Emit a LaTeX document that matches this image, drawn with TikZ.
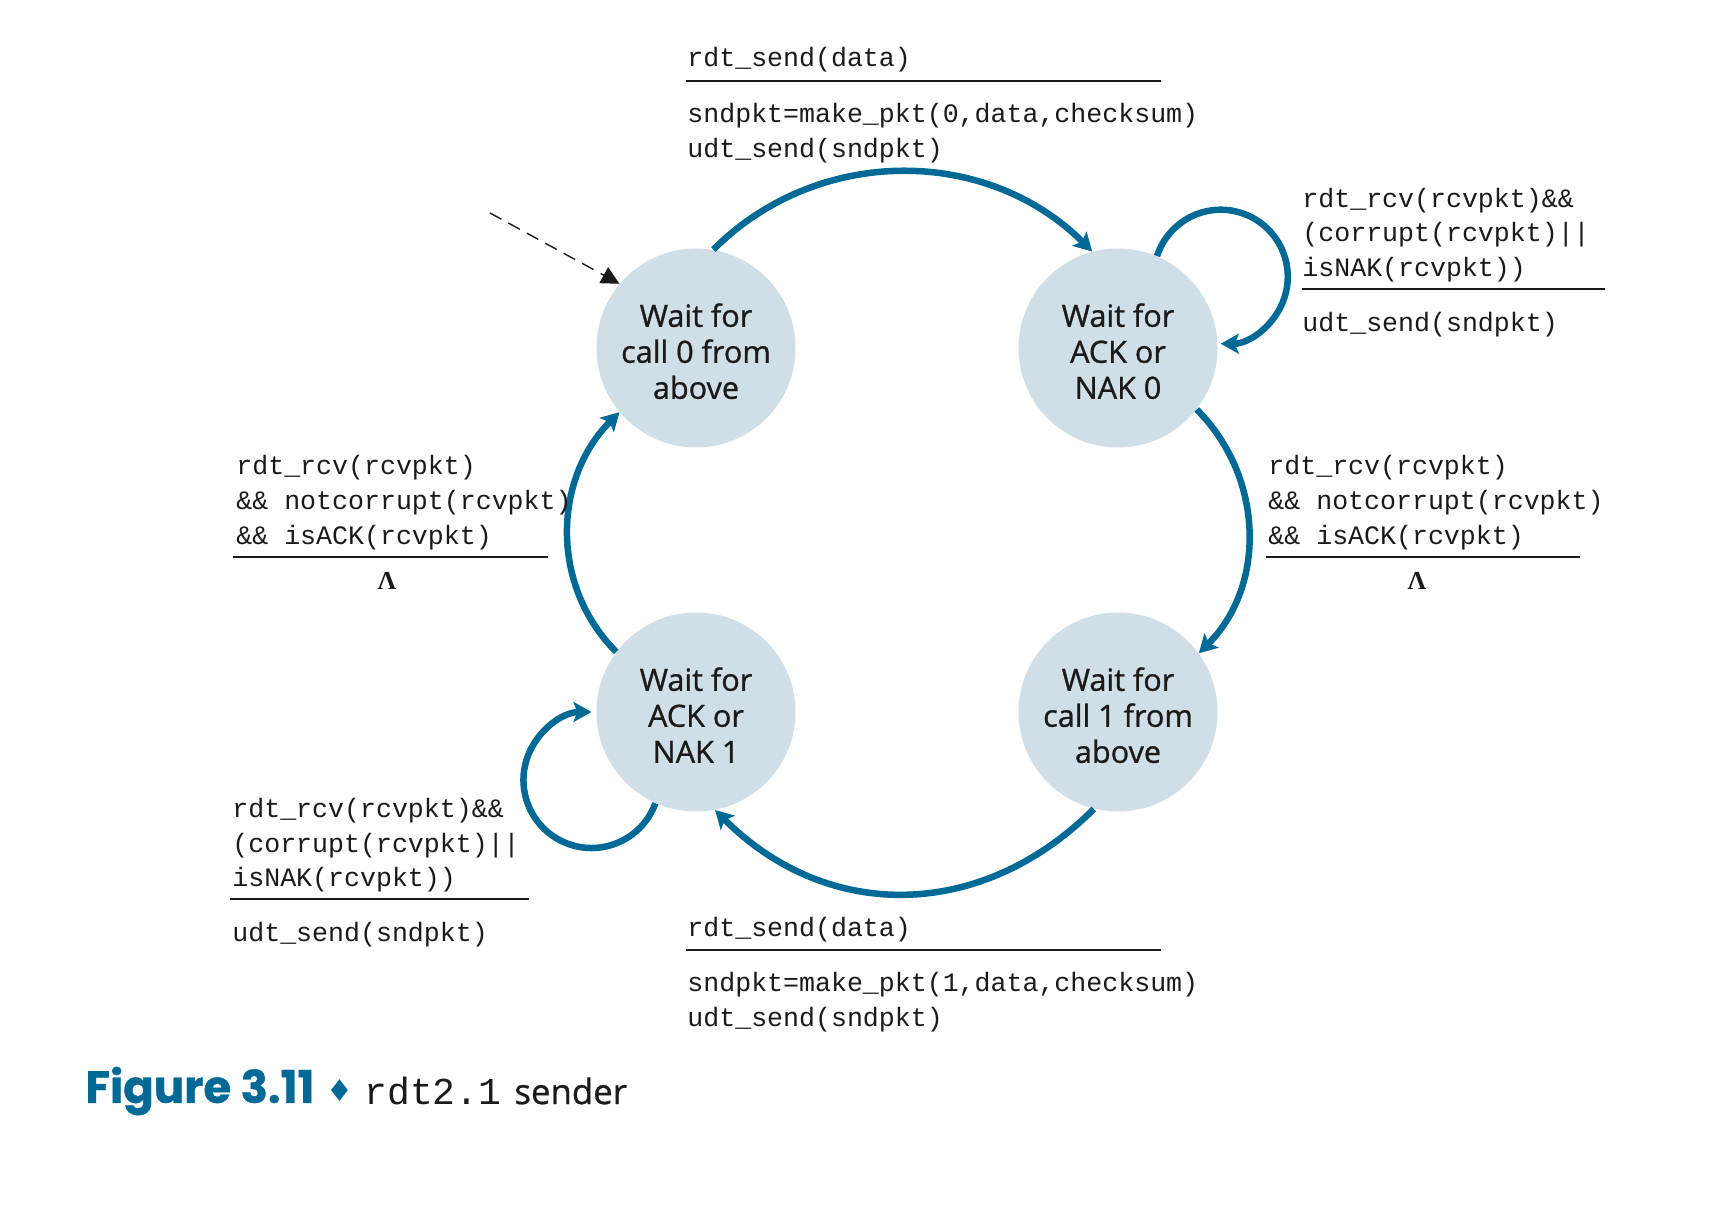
\documentclass[tikz,border=0pt]{standalone}
\usepackage{fontspec}
\setmainfont{Open Sans}
\setmonofont{Liberation Mono}
\newfontfamily\statefont{Open Sans}[FakeBold=0.9]
\newfontfamily\capfont{Poppins}[FakeBold=0.8]
\newfontfamily\symfont{DejaVu Sans}
\newfontfamily\lamfont{Liberation Serif}
\usetikzlibrary{arrows.meta}
\definecolor{fsmblue}{RGB}{0,105,150}
\definecolor{statefill}{RGB}{207,222,231}
\definecolor{ink}{RGB}{26,26,26}
% three centred lines of state text, lowered slightly inside the circle
% (the box keeps its natural height and depth, so the node stays centred)
\newcommand\statelines[3]{\raisebox{-3.8pt}[\height][\depth]{\begin{tabular}{@{}c@{}}#1\\#2\\#3\end{tabular}}}
\begin{document}
\begin{tikzpicture}[x=0.5pt,y=0.5pt,
  state/.style={circle, fill=statefill, minimum size=99.5pt, inner sep=0pt,
    text=ink, font=\fontsize{15.3}{18}\statefont},
  trans/.style={draw=fsmblue, line width=3.25pt,
    -{Stealth[length=9pt,width=10pt,inset=2pt]}},
  code/.style={anchor=west, inner sep=0pt, text=ink, yshift=-1.35pt,
    font=\fontsize{13.3}{17.5}\ttfamily},
  bar/.style={draw=ink, line width=1pt},
  lam/.style={inner sep=0pt, text=ink, font=\fontsize{13}{15}\lamfont\bfseries},
  initarrow/.style={draw=ink, line width=0.7pt, dash pattern=on 6.5pt off 4pt,
    -{Triangle[length=9pt,width=9pt]}}
]
\useasboundingbox (0,0) rectangle (1716,1220);

% states
\node[state] (s0) at (696,872)  {\statelines{Wait for}{call 0 from}{above}};
\node[state] (s1) at (1118,872) {\statelines{Wait for}{ACK or}{NAK 0}};
\node[state] (s2) at (696,508)  {\statelines{Wait for}{ACK or}{NAK 1}};
\node[state] (s3) at (1118,508) {\statelines{Wait for}{call 1 from}{above}};

% initial transition
\coordinate (init) at (490,1007);
\draw[initarrow] (init) -- (s0.140);

% transitions between states
\draw[trans] (s0.80)  to[out=45,in=135]   (s1.105);
\draw[trans] (s1.-38) to[out=-45,in=45]   (s3.36);
\draw[trans] (s3.-104) to[out=-135,in=-45,looseness=1.07] (s2.-79);
\draw[trans] (s2.143) to[out=135,in=-135] (s0.-140);

% self loops
\draw[trans] (s1.67) arc[start angle=162, end angle=-90, radius=67];
\draw[trans] (s2.-114) arc[start angle=-20, end angle=-270, radius=68];

% s0 -> s1 label
\node[code] (t01a) at (687,1163) {rdt\_send(data)};
\draw[bar] (686,1139) -- (1161,1139);
\node[code] (t01b) at (687,1107) {sndpkt=make\_pkt(0,data,checksum)};
\node[code] (t01c) at (687,1072) {udt\_send(sndpkt)};

% s1 self loop label
\node[code] (t11a) at (1302,1022) {rdt\_rcv(rcvpkt)\&\&};
\node[code] (t11b) at (1302,988)  {(corrupt(rcvpkt)||};
\node[code] (t11c) at (1302,953)  {isNAK(rcvpkt))};
\draw[bar] (1302,930.5) -- (1605,930.5);
\node[code] (t11d) at (1302,898)  {udt\_send(sndpkt)};

% s1 -> s3 label
\node[code] (t13a) at (1268,755) {rdt\_rcv(rcvpkt)};
\node[code] (t13b) at (1268,720) {\&\& notcorrupt(rcvpkt)};
\node[code] (t13c) at (1268,685) {\&\& isACK(rcvpkt)};
\draw[bar] (1266,662.5) -- (1580,662.5);
\node[lam] (t13d) at (1417,639) {Λ};

% s2 -> s0 label
\node[code] (t20a) at (236,755) {rdt\_rcv(rcvpkt)};
\node[code] (t20b) at (236,720) {\&\& notcorrupt(rcvpkt)};
\node[code] (t20c) at (236,685) {\&\& isACK(rcvpkt)};
\draw[bar] (233,662.5) -- (548,662.5);
\node[lam] (t20d) at (387,639) {Λ};

% s2 self loop label
\node[code] (t22a) at (232,412) {rdt\_rcv(rcvpkt)\&\&};
\node[code] (t22b) at (232,377) {(corrupt(rcvpkt)||};
\node[code] (t22c) at (232,343) {isNAK(rcvpkt))};
\draw[bar] (230,320.5) -- (529,320.5);
\node[code] (t22d) at (232,288) {udt\_send(sndpkt)};

% s3 -> s2 label
\node[code] (t32a) at (687,293) {rdt\_send(data)};
\draw[bar] (686,270) -- (1161,270);
\node[code] (t32b) at (687,238) {sndpkt=make\_pkt(1,data,checksum)};
\node[code] (t32c) at (687,203) {udt\_send(sndpkt)};

% caption
\node[anchor=west, inner sep=0pt, text=fsmblue,
  font=\fontsize{22.5}{26}\capfont\bfseries] (capnum) at (85,129) {Figure 3.11};
\node[inner sep=0pt, text=fsmblue, font=\fontsize{15}{18}\symfont] (capsep) at (340,129) {♦};
\node[anchor=west, inner sep=0pt, text=ink, font=\fontsize{19}{22}\ttfamily] (capcode) at (364,129) {rdt2.1};
\node[anchor=west, inner sep=0pt, text=ink, font=\fontsize{17.4}{20}\statefont] (captext) at (514,129) {sender};
\end{tikzpicture}
\end{document}
